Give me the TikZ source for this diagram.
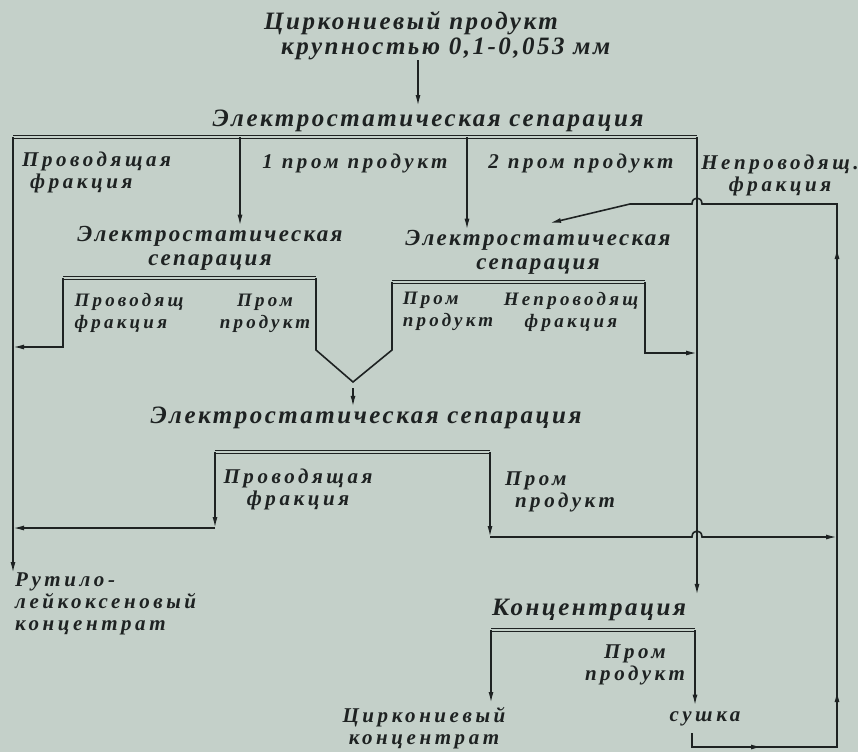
\documentclass[tikz,border=0pt]{standalone}
\usepackage{fontspec}
\setmainfont{Liberation Serif}
\newfontfamily\ttlfont{Liberation Serif}[LetterSpace=10]
\newfontfamily\lblfont{Liberation Serif}[LetterSpace=17]
\usetikzlibrary{arrows.meta,positioning,calc,decorations.markings}
\definecolor{paper}{RGB}{196,208,201}
\definecolor{ink}{RGB}{30,34,34}
\newcommand{\esep}{Электростатическая}

\begin{document}
\begin{tikzpicture}[
  x=1pt,y=-1pt,
  ttl/.style={font=\ttlfont\bfseries\itshape\fontsize{25}{25}\selectfont,text=ink,inner sep=0pt,align=center},
  ttlsm/.style={ttl,font=\ttlfont\bfseries\itshape\fontsize{23}{24}\selectfont},
  lbl/.style={font=\lblfont\bfseries\itshape\fontsize{21}{22}\selectfont,text=ink,inner sep=0pt,align=center},
  lblsm/.style={lbl,font=\lblfont\bfseries\itshape\fontsize{19}{22}\selectfont},
  line/.style={draw,color=ink,line width=1.6pt},
  arr/.style={line,-{Latex[length=11pt,width=5pt]}},
  bar/.style={draw=ink,line width=1.7pt,double=paper,double distance=1.1pt},
]
\fill[paper] (0,0) rectangle (858,752);
\useasboundingbox (0,0) rectangle (858,752);
% ----- feed
\node[ttl,anchor=west,align=left] (feed) at (264,36)
  {Циркониевый продукт\\\hspace*{17pt}крупностью 0,1-0,053 мм};
\coordinate (in1) at (418,106);
\draw[arr] (feed.south -| in1) -- (in1);
% ----- first separation
\node[ttl] (sep1) at (428,121) {\esep{} сепарация};
\coordinate (b1L) at (13,137);
\coordinate (b1a) at (240,137);
\coordinate (b1b) at (467,137);
\coordinate (b1R) at (697,137);
\draw[bar] (b1L) -- (b1R);
\node[lbl,align=left,anchor=north west] (l1a) at (22,152) {Проводящая\\\hspace*{8pt}фракция};
\node[lbl] (l1b) at (355,163) {1 пром продукт};
\node[lbl] (l1c) at (581,163) {2 пром продукт};
\node[lbl] (l1d) at (780,175) {Непроводящ.\\фракция};
% ----- second separations
\node[ttlsm] (sep2a) at (210,248) {\esep\\сепарация};
\node[ttlsm] (sep2b) at (538,252) {\esep\\сепарация};
\draw[arr] (b1a) -- (b1a |- sep2a.north);
\draw[arr] (b1b) -- (b1b |- sep2b.north);
\coordinate (b2aL) at (63,278);
\coordinate (b2aR) at (316,278);
\coordinate (b2bL) at (392,282);
\coordinate (b2bR) at (645,282);
\coordinate (vtip) at (353,382);
\draw[bar] (b2aL) -- (b2aR);
\draw[bar] (b2bL) -- (b2bR);
\node[lblsm,align=left] (l2a) at (129,313) {Проводящ\\фракция};
\node[lblsm] (l2b) at (265,313) {Пром\\продукт};
\node[lblsm,align=left] (l2c) at (448,311) {Пром\\продукт};
\node[lblsm] (l2d) at (571,312) {Непроводящ\\фракция};
\coordinate (j2a) at (13,347);
\coordinate (j2b) at (697,353);
\draw[arr] (b2aL) |- (j2a);
\draw[arr] (b2bR) |- (j2b);
\draw[line] (b2aR) -- ++(0,72) -- (vtip) -- ($(b2bL)+(0,68)$) -- (b2bL);
% ----- third separation
\node[ttl] (sep3) at (366,418) {\esep{} сепарация};
\draw[arr] ($(vtip)+(0,6)$) -- (vtip |- sep3.north);
\coordinate (b3L) at (215,452);
\coordinate (b3R) at (490,452);
\draw[bar] (b3L) -- (b3R);
\node[lbl] (l3a) at (298,489) {Проводящая\\фракция};
\node[lbl,align=left] (l3b) at (560,492) {Пром\\\hspace*{10pt}продукт};
\coordinate (j3a) at (13,528);
\coordinate (c3) at (490,537);
\coordinate (jB) at (697,537);
\coordinate (rc3) at (837,537);
\draw[arr] (b3L) -- (b3L |- j3a);
\draw[arr] (b3L |- j3a) -- (j3a);
\draw[arr] (b3R) -- (c3);
\draw[arr] (c3) -- ([xshift=-5pt]jB) .. controls +(0,-8) and +(0,-8) .. ([xshift=5pt]jB) -- (rc3);
% ----- rutile concentrate
\node[lbl,align=left,anchor=north west] (rutile) at (15,573) {Рутило-\\лейкоксеновый\\концентрат};
\draw[arr] (b1L) -- (b1L |- rutile.north);
% ----- concentration
\node[ttl] (conc) at (589,610) {Концентрация};
\draw[arr] (b1R) -- ($(b1R |- conc.north)+(0,-4)$);
\coordinate (b4L) at (491,630);
\coordinate (b4R) at (695,630);
\draw[bar] (b4L) -- (b4R);
\node[lbl] (l4) at (635,665) {Пром\\продукт};
\node[lbl] (zircon) at (424,728) {Циркониевый\\концентрат};
\node[lbl] (dry) at (705,719) {сушка};
\draw[arr] (b4L) -- ($(b4L |- zircon.north)+(0,-4)$);
\draw[arr] (b4R) -- ($(b4R |- dry.north)+(0,-6)$);
% ----- recycle to second separation
\coordinate (dryout) at (692,733);
\coordinate (rcB) at (837,747);
\coordinate (rcT) at (837,204);
\coordinate (jA) at (697,204);
\coordinate (rcK) at (630,204);
\coordinate (in2b) at (550,223);
\draw[arr,postaction={decorate},decoration={markings,
    mark=at position 84pt with {\arrow{Latex[length=11pt,width=5pt]}},
    mark=at position 215pt with {\arrow{Latex[length=11pt,width=5pt]}},
    mark=at position 658pt with {\arrow{Latex[length=11pt,width=5pt]}}}]
  (dryout) |- (rcB) -- (rcT) -- ([xshift=5pt]jA) .. controls +(0,-8) and +(0,-8) .. ([xshift=-5pt]jA)
  -- (rcK) -- (in2b);
\end{tikzpicture}
\end{document}
